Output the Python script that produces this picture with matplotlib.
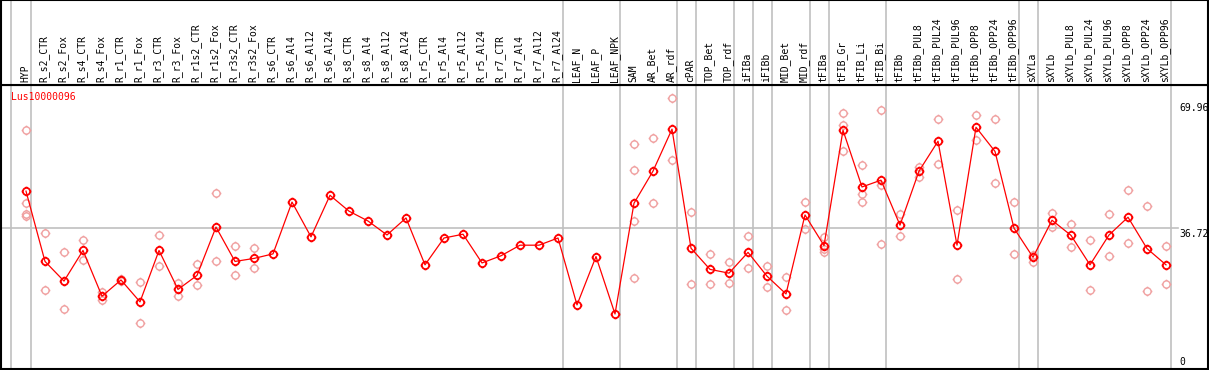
import matplotlib
matplotlib.use("Agg")
import matplotlib.pyplot as plt
from matplotlib.path import Path
import numpy as np

categories = ["HYP", "R_s2_CTR", "R_s2_Fox", "R_s4_CTR", "R_s4_Fox", "R_r1_CTR", "R_r1_Fox",
              "R_r3_CTR", "R_r3_Fox", "R_r1s2_CTR", "R_r1s2_Fox", "R_r3s2_CTR", "R_r3s2_Fox",
              "R_s6_CTR", "R_s6_Al4", "R_s6_Al12", "R_s6_Al24", "R_s8_CTR", "R_s8_Al4",
              "R_s8_Al12", "R_s8_Al24", "R_r5_CTR", "R_r5_Al4", "R_r5_Al12", "R_r5_Al24",
              "R_r7_CTR", "R_r7_Al4", "R_r7_Al12", "R_r7_Al24", "LEAF_N", "LEAF_P", "LEAF_NPK",
              "SAM", "AR_Bet", "AR_rdf", "cPAR", "TOP_Bet", "TOP_rdf", "iFIBa", "iFIBb",
              "MID_Bet", "MID_rdf", "tFIBa", "tFIB_Gr", "tFIB_Li", "tFIB_Bi", "tFIBb",
              "tFIBb_PUL8", "tFIBb_PUL24", "tFIBb_PUL96", "tFIBb_OPP8", "tFIBb_OPP24",
              "tFIBb_OPP96", "sXYLa", "sXYLb", "sXYLb_PUL8", "sXYLb_PUL24", "sXYLb_PUL96",
              "sXYLb_OPP8", "sXYLb_OPP24", "sXYLb_OPP96"]

means = [46.5, 27.9, 22.7, 30.8, 18.7, 23.0, 17.2, 30.8, 20.5, 24.2, 37.0, 27.9, 28.7,
         29.9, 43.6, 34.4, 45.4, 41.2, 38.6, 34.9, 39.4, 27.0, 34.1, 35.1, 27.5, 29.4,
         32.2, 32.2, 34.1, 16.4, 29.2, 14.0, 43.3, 51.8, 62.9, 31.4, 25.8, 24.8, 30.3,
         24.0, 19.3, 40.2, 32.1, 62.6, 47.6, 49.4, 37.5, 51.8, 59.7, 32.2, 63.4, 57.0,
         36.7, 29.0, 38.8, 34.8, 27.0, 34.9, 39.6, 31.3, 27.0]

replicates = [
    [62.6, 43.3, 40.5, 40.0], [35.3, 20.3], [30.3, 15.3], [33.6, 28.2], [19.7, 17.7],
    [23.3, 22.7], [22.4, 11.5], [34.9, 26.6], [22.3, 18.7], [27.1, 21.6], [46.0, 27.9],
    [31.9, 24.2], [31.4, 26.1],
    [], [], [], [], [], [], [], [], [], [], [], [], [], [], [], [], [], [], [],
    [59.0, 52.0, 38.5, 23.4], [60.5, 43.3], [71.1, 54.7], [40.9, 21.9], [29.9, 21.9],
    [27.8, 22.1], [34.6, 26.1], [26.7, 21.1], [23.8, 15.1], [43.6, 36.4],
    [34.4, 31.2, 30.5], [67.1, 64.1, 57.0], [53.3, 45.7, 43.6], [67.9, 48.2, 32.5],
    [40.4, 34.7], [53.0, 50.3], [65.5, 53.7], [41.4, 23.2], [66.6, 60.0], [65.5, 48.7],
    [43.5, 29.9], [29.7, 27.8], [40.7, 36.9], [37.7, 31.7], [33.5, 20.3], [40.4, 29.3],
    [46.8, 32.7], [42.5, 20.1], [31.9, 21.9],
]

group_ends = ["HYP", "R_r7_Al24", "LEAF_NPK", "AR_rdf", "cPAR", "TOP_rdf", "iFIBa",
              "iFIBb", "MID_rdf", "tFIBa", "tFIB_Bi", "tFIBb_OPP96", "sXYLa", "sXYLb_OPP96"]

y_ticks = [0, 36.72, 69.96]
title = "Lus10000096"

# ---- styling ----
W, H = 1209, 370
DPI = 100
RED = "#ff0000"
PINK = "#f0a0a0"
GRID = "#c0c0c0"
MONO = "DejaVu Sans Mono"

# custom marker: circle with four small outer ticks
circ = Path.unit_circle()
ticks = []
for ang in (0, np.pi / 2, np.pi, 3 * np.pi / 2):
    c, s = np.cos(ang), np.sin(ang)
    ticks.append(Path([(c * 1.0, s * 1.0), (c * 1.35, s * 1.35)], [Path.MOVETO, Path.LINETO]))
marker_path = Path.make_compound_path(circ, *ticks)

fig = plt.figure(figsize=(W / DPI, H / DPI), dpi=DPI)

x = np.arange(len(categories))
xl = ((1 - 26) / 19.0, (1208 - 26) / 19.0)


def ypix_to_frac(y):
    return 1 - y / H


# plot area: y pixels 85..369 ; header area: y pixels 0..85
ax = fig.add_axes([1 / W, ypix_to_frac(369), 1207 / W, (369 - 85) / H])
hx = fig.add_axes([1 / W, ypix_to_frac(85), 1207 / W, 85 / H])

y_top = (366.9 - 85) / 3.78
y_bot = (366.9 - 369) / 3.78
ax.set_xlim(*xl)
ax.set_ylim(y_bot, y_top)
hx.set_xlim(*xl)
hx.set_ylim(0, 85)

for a in (ax, hx):
    a.set_xticks([])
    a.set_yticks([])
    for sp in a.spines.values():
        sp.set_color("black")
        sp.set_linewidth(1.5)

# vertical group separators
gx = [-0.79] + [categories.index(g) + 0.24 for g in group_ends]
for g in gx:
    ax.axvline(g, color=GRID, lw=1.2, zorder=0)
    hx.axvline(g, color=GRID, lw=1.2, zorder=0)

# horizontal grid at middle tick
ax.axhline(y_ticks[1], xmin=0, xmax=(1178 - 1) / 1207, color=GRID, lw=1.2, zorder=0)

# replicates
rx, ry = [], []
for i, reps in enumerate(replicates):
    for r in reps:
        rx.append(i)
        ry.append(r)
ax.plot(rx, ry, linestyle="none", marker=marker_path, markersize=7,
        markerfacecolor="none", markeredgecolor=PINK, markeredgewidth=1.0, zorder=2)

# means
ax.plot(x, means, color=RED, lw=0.9, marker=marker_path, markersize=7,
        markerfacecolor="none", markeredgecolor=RED, markeredgewidth=1.3, zorder=3)

# title
ax.text(10 / 1207, 1 - (92 - 85) / (369 - 85), title, transform=ax.transAxes,
        color=RED, fontsize=7, family=MONO, ha="left", va="top")

# right-side value labels
xlab = (1179 - 1) / 1207
for v in y_ticks:
    if v == 0:
        ax.annotate("0", xy=(xlab, 0), xycoords="axes fraction",
                    xytext=(0, 12), textcoords="offset pixels",
                    fontsize=7, family=MONO, ha="left", va="top", color="black")
    else:
        ax.annotate(f"{v:.2f}", xy=(xlab, v), xycoords=("axes fraction", "data"),
                    xytext=(0, -1), textcoords="offset pixels",
                    fontsize=7, family=MONO, ha="left", va="top", color="black")

# header labels
for i, c in enumerate(categories):
    hx.text(i - 0.05, 3, c, rotation=90, ha="center", va="bottom",
            fontsize=7, family=MONO, color="black")

fig.savefig("out.png", dpi=DPI)
